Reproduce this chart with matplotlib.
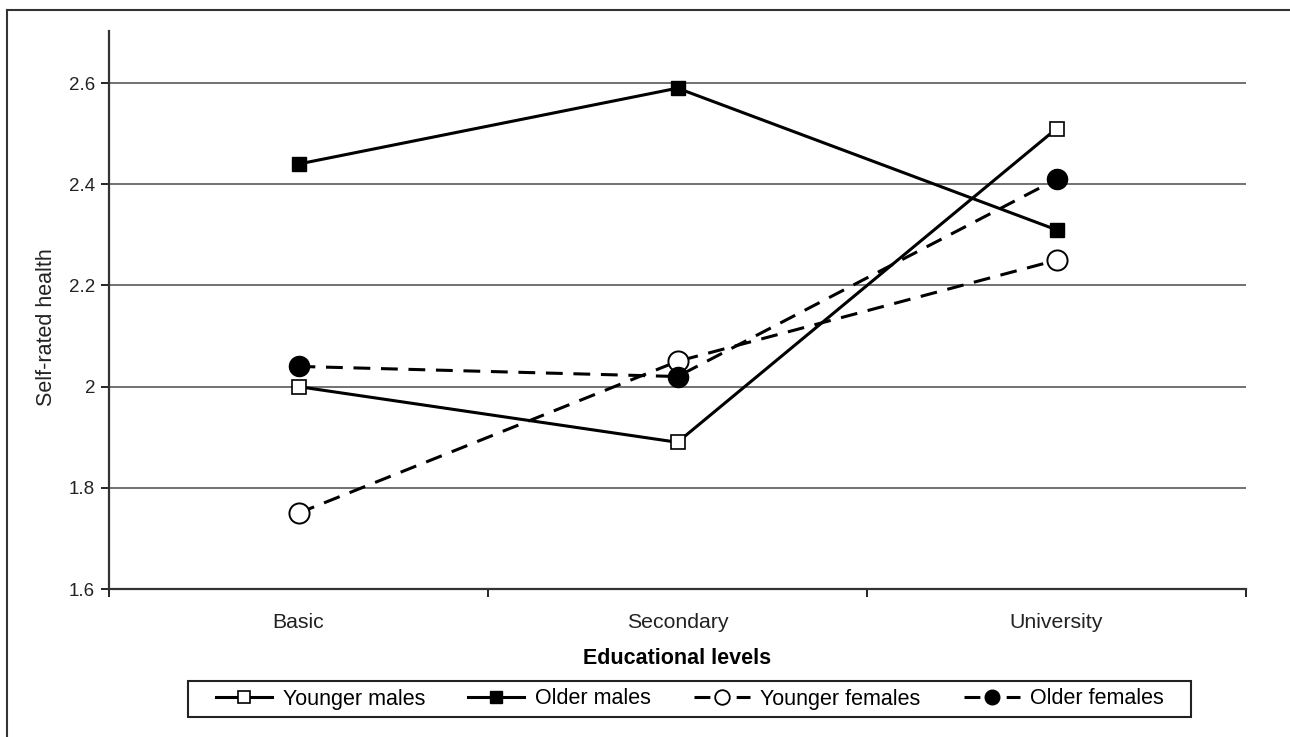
import numpy as np
import matplotlib.pyplot as plt
from matplotlib.lines import Line2D
from matplotlib.patches import Rectangle

plt.rcParams['font.family'] = ['Liberation Sans', 'DejaVu Sans']

# data
levels = ['Basic', 'Secondary', 'University']
younger_males = [2.00, 1.89, 2.51]
older_males = [2.44, 2.59, 2.31]
younger_females = [1.75, 2.05, 2.25]
older_females = [2.04, 2.02, 2.41]
series_names = ['Younger males', 'Older males', 'Younger females', 'Older females']
yticks = [1.6, 1.8, 2.0, 2.2, 2.4, 2.6]
ytick_labels = ['1.6', '1.8', '2', '2.2', '2.4', '2.6']

x = np.arange(len(levels))
W, H = 1290, 737

fig = plt.figure(figsize=(12.9, 7.37), dpi=100)
ax = fig.add_axes([109 / W, 1 - 589 / H, 1137 / W, 558 / H])

# outer frame of the figure
fig.add_artist(Line2D([7 / W, 7 / W], [0, 1 - 10 / H],
                      transform=fig.transFigure, color='#333333', lw=1.5))
fig.add_artist(Line2D([7 / W, 1], [1 - 10 / H, 1 - 10 / H],
                      transform=fig.transFigure, color='#333333', lw=1.5))

for yv in yticks[1:]:
    ax.axhline(yv, color='#666666', lw=1.3, zorder=1)

lw = 2.2
dash = (0, (5.5, 3.5))
styles = [
    dict(ls='-', marker='s', mfc='white', mew=1.2),
    dict(ls='-', marker='s', mfc='black', mew=1.0),
    dict(ls=dash, marker='o', mfc='white', mew=1.4),
    dict(ls=dash, marker='o', mfc='black', mew=1.0),
]
sizes = [9.5, 9.5, 14.5, 14.5]
for vals, name, st, ms in zip([younger_males, older_males, younger_females,
                               older_females], series_names, styles, sizes):
    ax.plot(x, vals, color='black', lw=lw, ms=ms, mec='black', zorder=3,
            label=name, **st)

ax.set_xlim(-0.5, 2.5)
ax.set_ylim(1.6, 2.703)
ax.set_yticks(yticks)
ax.set_yticklabels(ytick_labels, fontsize=13.5, color='#222222')
ax.set_xticks([-0.5, 0.5, 1.5, 2.5])
ax.set_xticklabels([])
ax.set_xticks(x, minor=True)
ax.set_xticklabels(levels, minor=True, fontsize=15.3, color='#222222')
ax.tick_params(axis='x', which='minor', length=0, pad=17)
ax.tick_params(axis='x', which='major', length=6, width=1.2, direction='out')
ax.tick_params(axis='y', length=6, width=1.2, direction='out', pad=4)

for s in ['top', 'right']:
    ax.spines[s].set_visible(False)
for s in ['left', 'bottom']:
    ax.spines[s].set_linewidth(1.6)
    ax.spines[s].set_color('#333333')

ax.set_ylabel('Self-rated health', fontsize=15.5, color='#222222')
ax.yaxis.set_label_coords(-0.046, 0.47)
ax.set_xlabel('Educational levels', fontsize=15.5, fontweight='bold',
              labelpad=12)

# legend with symmetric dashes around the marker
leg_dash = (0, (5.2, 8.6))
handles = [
    Line2D([], [], color='black', lw=lw, marker='s', ms=8, mfc='white',
           mec='black', mew=1.2),
    Line2D([], [], color='black', lw=lw, marker='s', ms=8, mfc='black',
           mec='black'),
    Line2D([], [], color='black', lw=lw, ls=leg_dash, marker='o', ms=10.5,
           mfc='white', mec='black', mew=1.3),
    Line2D([], [], color='black', lw=lw, ls=leg_dash, marker='o', ms=10.5,
           mfc='black', mec='black'),
]
leg = fig.legend(handles, series_names, loc='center',
                 bbox_to_anchor=(690 / W, 1 - 699 / H),
                 ncol=4, fontsize=15.5, frameon=False,
                 handlelength=2.6, columnspacing=2.0, handletextpad=0.5)
fig.add_artist(Rectangle((188 / W, 1 - 717 / H), 1003 / W, 36 / H,
                         transform=fig.transFigure, fill=False,
                         edgecolor='#222222', lw=1.5))

fig.savefig('out.png', dpi=100)
